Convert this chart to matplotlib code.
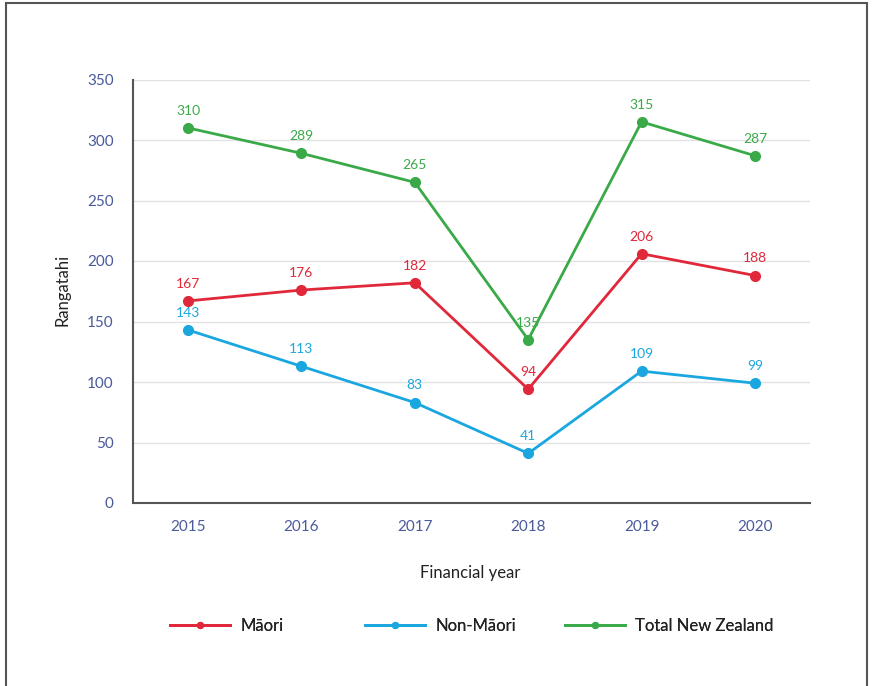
import matplotlib
matplotlib.use("Agg")
import matplotlib.pyplot as plt
from matplotlib.patches import Rectangle

years = ["2015", "2016", "2017", "2018", "2019", "2020"]
maori = [167, 176, 182, 94, 206, 188]
non_maori = [143, 113, 83, 41, 109, 99]
total_nz = [310, 289, 265, 135, 315, 287]

series = [
    ("Māori", maori, "#e0283a"),
    ("Non-Māori", non_maori, "#1aa7e0"),
    ("Total New Zealand", total_nz, "#3aaa48"),
]

plt.rcParams['font.family'] = ['Lato', 'DejaVu Sans']

fig = plt.figure(figsize=(8.72, 6.86), dpi=100)
W, H = 872, 686
ax = fig.add_axes([133 / W, 1 - 503 / H, (810 - 133) / W, (503 - 79.5) / H])

x = list(range(len(years)))
lines = []
for name, vals, col in series:
    ln, = ax.plot(x, vals, color=col, lw=2, marker="o", ms=7, label=name, zorder=3)
    lines.append(ln)
    for xi, v in zip(x, vals):
        ax.annotate(str(v), (xi, v), xytext=(0, 8), textcoords="offset points",
                    ha="center", va="bottom", color=col, fontsize=10, zorder=4)

ax.set_xlim(-0.485, 5.485)
ax.set_ylim(0, 350)
ax.set_yticks(range(0, 351, 50))
ax.set_xticks(x)
ax.set_xticklabels(years)
ax.grid(axis="y", color="#e2e2e2", lw=1)
ax.set_axisbelow(True)
for s in ["top", "right"]:
    ax.spines[s].set_visible(False)
for s in ["left", "bottom"]:
    ax.spines[s].set_color("#555555")
    ax.spines[s].set_linewidth(1.5)
ax.tick_params(length=0, colors="#4a5a9a", labelsize=11)
ax.tick_params(axis="y", pad=14)
ax.tick_params(axis="x", pad=12)

fig.text(62 / W, 1 - 290 / H, "Rangatahi", rotation=90, ha="center", va="center",
         fontsize=12, color="#222222")
fig.text(470 / W, 1 - 573 / H, "Financial year", ha="center", va="center",
         fontsize=12, color="#222222")

starts = [170, 365, 565]
for ln, sx in zip(lines, starts):
    leg = fig.legend([ln], [ln.get_label()], loc="center left",
                     bbox_to_anchor=(sx / W, 1 - 626 / H), frameon=False,
                     fontsize=12, markerscale=0.6, handlelength=3.6,
                     handletextpad=0.6, borderpad=0, borderaxespad=0)
    for t in leg.get_texts():
        t.set_color("#222222")
    fig.add_artist(leg)

fig.patches.append(Rectangle((6 / W, -0.01), (867 - 6) / W, 1 - 3 / H + 0.01,
                             transform=fig.transFigure, fill=False,
                             edgecolor="#555555", lw=1.5))

fig.savefig("out.png", dpi=100)
